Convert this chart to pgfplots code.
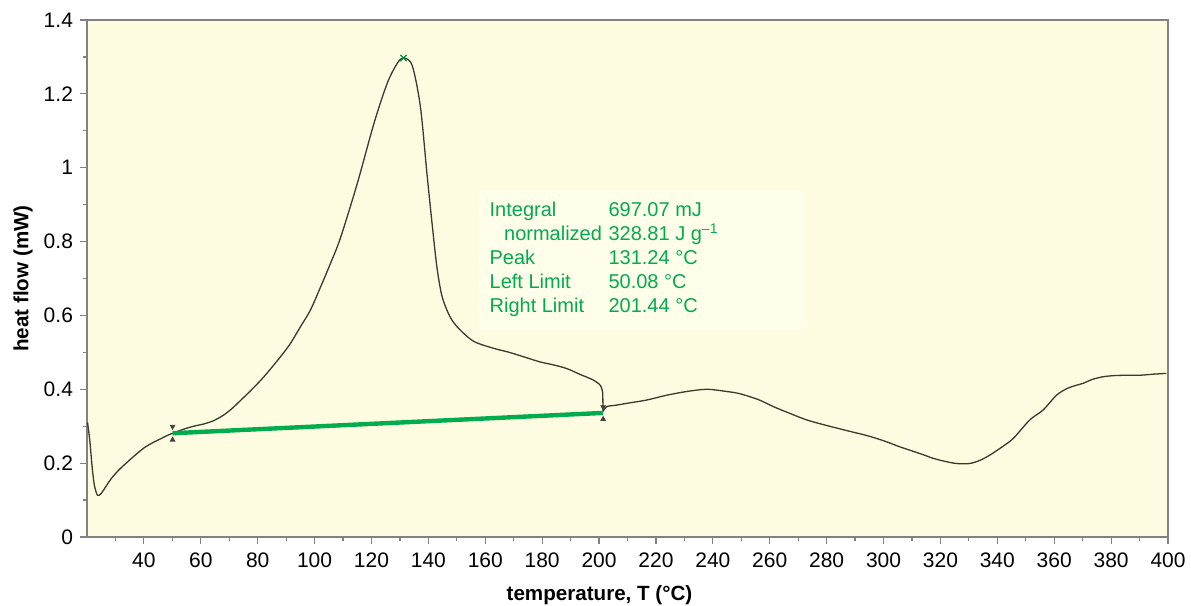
\documentclass[border=0pt]{standalone}
\usepackage{fontspec}
\setmainfont{Liberation Sans}
\usepackage{pgfplots}
\pgfplotsset{compat=1.18}
\usetikzlibrary{calc}
\definecolor{bgyellow}{RGB}{254,252,224}
\definecolor{boxyellow}{RGB}{255,254,234}
\definecolor{curve}{RGB}{58,58,46}
\definecolor{dscgreen}{RGB}{0,172,78}
\definecolor{axgray}{RGB}{130,130,130}

\begin{document}
\begin{tikzpicture}
\begin{axis}[
  scale only axis,
  width=540.5pt, height=258.5pt,
  xmin=20, xmax=400, ymin=0, ymax=1.4,
  xtick={40,60,...,400},
  minor xtick={30,50,...,390},
  ytick={0,0.2,...,1.4},
  minor ytick={0.1,0.3,...,1.3},
  yticklabel style={/pgf/number format/fixed},
  /pgf/number format/assume math mode=true,
  tick label style={font=\fontsize{10.5}{12}\selectfont, text=black},
  xticklabel style={yshift=-1pt},
  tick align=outside,
  major tick length=3.5pt, minor tick length=2pt,
  tick style={axgray, line width=0.6pt},
  xtick pos=bottom, ytick pos=left,
  axis line style={axgray, line width=0.8pt},
  axis background/.style={fill=bgyellow},
  xlabel={\textbf{temperature, T (°C)}},
  ylabel={\textbf{heat flow (mW)}},
  label style={font=\fontsize{10.3}{12}\selectfont},
  xlabel style={at={(rel axis cs:0.5,0)}, anchor=center, yshift=-29pt, xshift=-14pt},
  ylabel style={at={(rel axis cs:0,0.5)}, anchor=center, yshift=32pt},
  clip=false,
]
\coordinate (bl) at (rel axis cs:0,0);
\coordinate (tr) at (rel axis cs:1,1);
% lighter box behind the annotation
\fill[boxyellow] (axis cs:157.7,0.56) rectangle (axis cs:272.5,0.94);

\addplot[curve, line width=0.65pt, smooth, tension=0.5] coordinates {
(20.2,0.310) (21.0,0.260) (21.8,0.190) (22.6,0.140) (23.7,0.113) (25.0,0.118)
(26.5,0.135) (28.3,0.156) (31.0,0.180) (34.2,0.203) (37.0,0.222) (40.0,0.241)
(43.0,0.255) (45.9,0.266) (48.5,0.276) (50.5,0.282) (54.0,0.292) (57.5,0.300)
(61.0,0.306) (64.5,0.315) (68.0,0.330) (71.0,0.348) (74.0,0.370) (77.5,0.396)
(82.2,0.434) (88.0,0.488) (91.5,0.524) (95.0,0.569) (98.5,0.614) (102.1,0.677)
(105.6,0.741) (109.1,0.810) (115.0,0.957) (120.8,1.118) (125.5,1.228) (129.0,1.282)
(131.2,1.297) (134.3,1.277) (137.2,1.165) (139.5,0.984) (141.3,0.849) (143.0,0.731)
(144.8,0.652) (147.5,0.598) (150.5,0.566) (155.9,0.530) (162.9,0.511) (168.0,0.501)
(173.5,0.488) (179.3,0.474) (184.0,0.466) (188.7,0.456) (193.4,0.440) (198.0,0.425)
(200.5,0.410) (201.3,0.390)
};
\addplot[curve, line width=0.65pt] coordinates {(201.3,0.390) (201.4,0.340)};
\addplot[curve, line width=0.65pt, smooth, tension=0.5] coordinates {
(201.4,0.340) (202.7,0.353) (206.0,0.357) (209.8,0.362) (216.8,0.371) (223.8,0.384)
(230.8,0.394) (237.9,0.400) (244.9,0.394) (249.5,0.388) (256.0,0.372) (261.3,0.353)
(267.0,0.335) (273.0,0.317) (280.0,0.302) (288.2,0.286) (294.0,0.275) (299.9,0.261)
(305.8,0.244) (309.3,0.235) (313.5,0.224) (317.5,0.213) (321.5,0.205) (325.7,0.199)
(330.3,0.199) (334.0,0.208) (337.4,0.222) (341.5,0.243) (345.6,0.267) (351.4,0.317)
(356.1,0.344) (360.8,0.384) (364.5,0.402) (367.8,0.411) (370.1,0.416) (373.5,0.427)
(377.2,0.434) (381.0,0.437) (385.4,0.438) (390.0,0.438) (395.0,0.441) (399.4,0.443)
};

% baseline of the integration
\addplot[dscgreen, line width=2.2pt] coordinates {(50.08,0.281) (201.44,0.336)};
% limit markers
\addplot[only marks, mark=triangle*, mark size=1.3pt, black!75, mark options={rotate=180}]
  coordinates {(50.08,0.299) (201.44,0.352)};
\addplot[only marks, mark=triangle*, mark size=1.3pt, black!75]
  coordinates {(50.08,0.263) (201.44,0.319)};
% peak marker
\addplot[only marks, mark=x, mark size=2.2pt, dscgreen!80!black, line width=0.6pt]
  coordinates {(131.24,1.297)};

\begin{scope}[every node/.style={font=\fontsize{10}{12}\selectfont, text=dscgreen, anchor=base west, inner sep=0pt}]
\node at (axis cs:161.4,0.867) {Integral};
\node at (axis cs:166.5,0.803) {normalized};
\node at (axis cs:161.4,0.738) {Peak};
\node at (axis cs:161.4,0.673) {Left Limit};
\node at (axis cs:161.4,0.607) {Right Limit};
\node at (axis cs:203.2,0.867) {697.07 mJ};
\node at (axis cs:203.2,0.803) {328.81 J g\textsuperscript{–1}};
\node at (axis cs:203.2,0.738) {131.24 °C};
\node at (axis cs:203.2,0.673) {50.08 °C};
\node at (axis cs:203.2,0.607) {201.44 °C};
\end{scope}
\end{axis}
\pgfresetboundingbox
\path[use as bounding box] ($(bl)+(-43.5pt,-34pt)$) rectangle ($(tr)+(11.5pt,10pt)$);
\end{tikzpicture}
\end{document}
